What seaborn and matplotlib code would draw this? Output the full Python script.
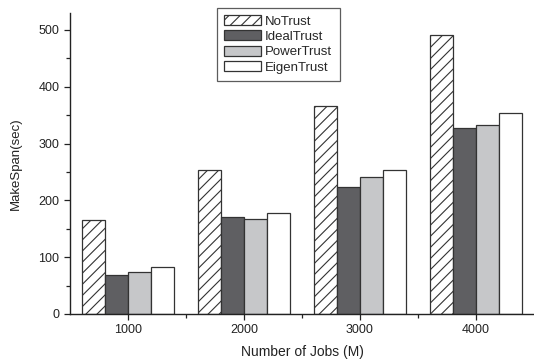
import matplotlib
matplotlib.use("Agg")
import matplotlib.pyplot as plt
from matplotlib.ticker import MultipleLocator, FixedLocator
from matplotlib.patches import Patch
import seaborn as sns
import pandas as pd

jobs = ["1000", "2000", "3000", "4000"]
methods = ["NoTrust", "IdealTrust", "PowerTrust", "EigenTrust"]
no_trust = [165, 254, 367, 491]
ideal_trust = [68, 170, 223, 328]
power_trust = [73, 167, 242, 332]
eigen_trust = [82, 177, 254, 353]

rows = []
for name, vals in zip(methods, [no_trust, ideal_trust, power_trust, eigen_trust]):
    for j, v in zip(jobs, vals):
        rows.append({"Jobs": j, "Method": name, "MakeSpan": v})
df = pd.DataFrame(rows)

sns.set_theme(style="ticks")
plt.rcParams["font.family"] = ["Liberation Sans", "DejaVu Sans"]
plt.rcParams["hatch.linewidth"] = 0.8

fills = {"NoTrust": "#ffffff", "IdealTrust": "#5f5f62",
         "PowerTrust": "#c6c7c9", "EigenTrust": "#ffffff"}

fig = plt.figure(figsize=(5.34, 3.6), dpi=100)
ax = fig.add_axes([0.131, 0.128, 0.869, 0.836])

sns.barplot(data=df, x="Jobs", y="MakeSpan", hue="Method", order=jobs,
            hue_order=methods, palette=fills, width=0.8, saturation=1,
            edgecolor="#333333", linewidth=0.9, ax=ax, legend=False)

for cont, name in zip(ax.containers, methods):
    for p in cont.patches:
        if name == "NoTrust":
            p.set_hatch("///")

ax.set_xlim(-0.5, 3.5)
ax.set_ylim(0, 530)
ax.yaxis.set_major_locator(MultipleLocator(100))
ax.yaxis.set_minor_locator(MultipleLocator(50))
ax.xaxis.set_minor_locator(FixedLocator([0.5, 1.5, 2.5]))

for s in ["top", "right"]:
    ax.spines[s].set_visible(False)
for s in ["left", "bottom"]:
    ax.spines[s].set_linewidth(1.0)
    ax.spines[s].set_color("#222222")

ax.tick_params(axis="both", which="major", direction="out", length=4,
               width=0.9, labelsize=9, colors="#222222")
ax.tick_params(axis="both", which="minor", direction="out", length=3,
               width=0.9, colors="#222222")
ax.set_xlabel("Number of Jobs (M)", fontsize=10, color="#222222", labelpad=6)
ax.set_ylabel("MakeSpan(sec)", fontsize=9.5, color="#222222", labelpad=12)

handles = [Patch(facecolor=fills[m], edgecolor="#333333", linewidth=0.9,
                 hatch="///" if m == "NoTrust" else None) for m in methods]
leg = ax.legend(handles, methods, loc="upper left", bbox_to_anchor=(0.317, 1.017),
                frameon=True, fancybox=False, edgecolor="#333333",
                fontsize=9.5, handlelength=2.8, handleheight=0.8,
                handletextpad=0.3, labelspacing=0.2, borderpad=0.55,
                borderaxespad=0)
leg.get_frame().set_linewidth(0.9)

fig.savefig("out.png", dpi=100)
